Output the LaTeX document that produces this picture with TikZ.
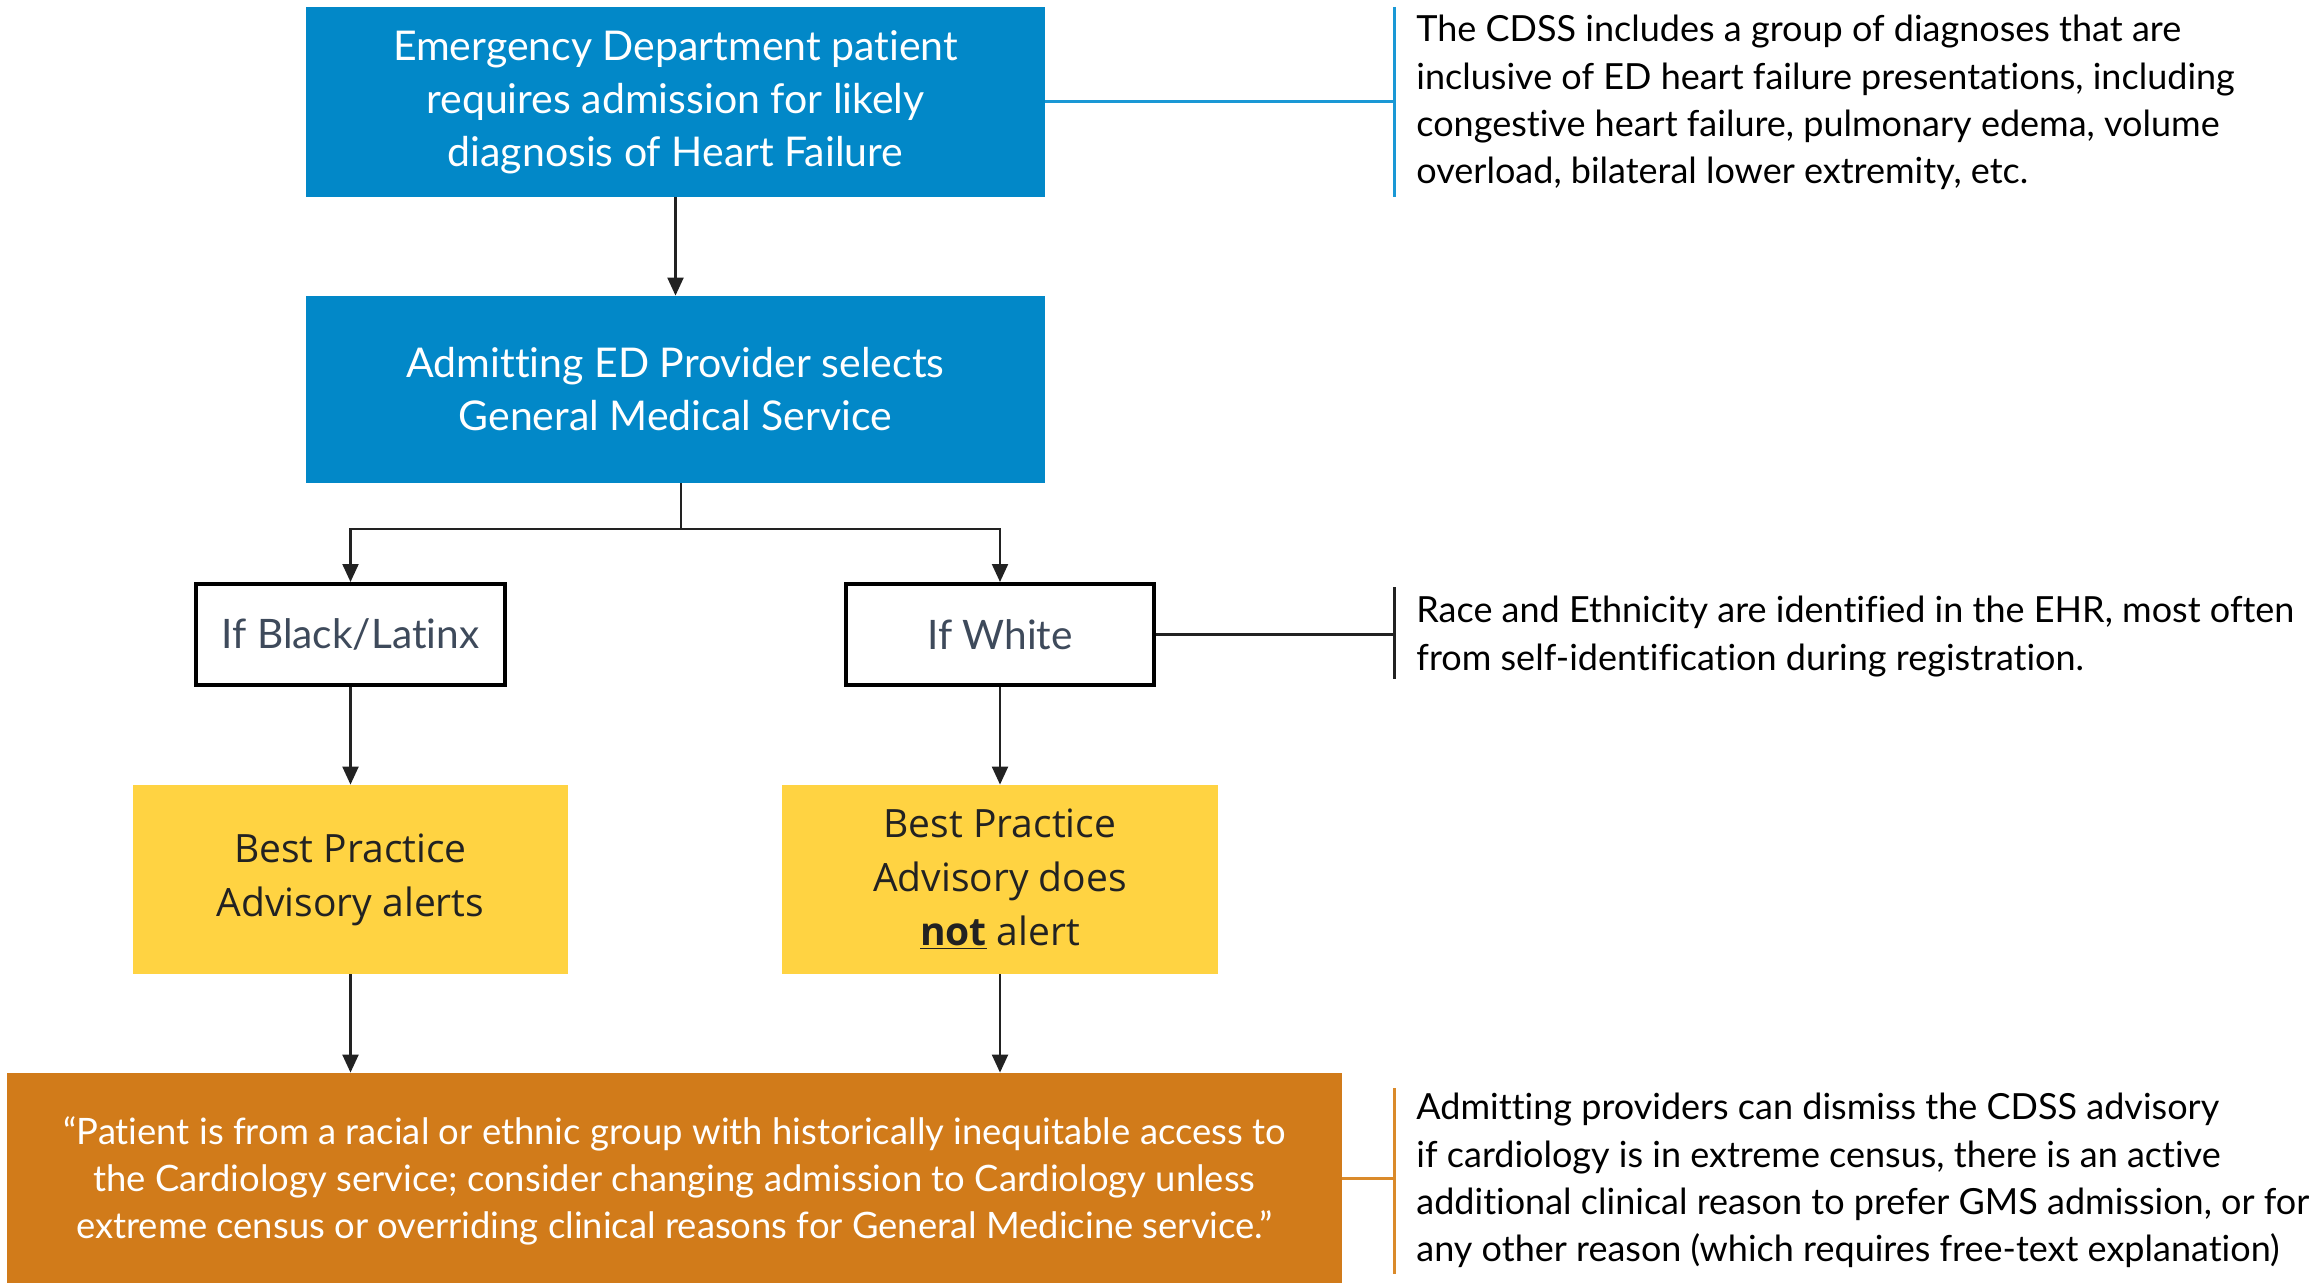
\documentclass[tikz,border=0pt]{standalone}
\usepackage{fontspec}
\setmainfont[Ligatures=NoCommon]{Lato}
\newfontfamily\yelfont{Open Sans}
\usetikzlibrary{arrows.meta,calc}
\definecolor{boxblue}{HTML}{0288C8}
\definecolor{lineblue}{HTML}{1A98D5}
\definecolor{boxyellow}{HTML}{FFD342}
\definecolor{boxorange}{HTML}{D17B1A}
\definecolor{lineorange}{HTML}{DA8A2A}
\definecolor{ifgray}{HTML}{3E4A5B}
\definecolor{conn}{HTML}{222222}
\tikzset{
  bluebox/.style={fill=boxblue, text=white, align=center, inner sep=0pt, minimum width=369.5pt, font=\fontsize{20.5}{26.5}\selectfont},
  ifbox/.style={draw=black, line width=2pt, fill=white, text=ifgray, align=center, inner sep=0pt, font=\fontsize{20.3}{26}\selectfont},
  yelbox/.style={fill=boxyellow, text=conn, align=center, inner sep=0pt, minimum height=94.5pt, font=\yelfont\fontsize{19.5}{27}\selectfont},
  orbox/.style={fill=boxorange, text=white, align=center, inner sep=0pt, font=\fontsize{18.2}{23.5}\selectfont},
  anntext/.style={anchor=north west, inner sep=0pt, align=left, text=black, font=\fontsize{18}{23.6}\selectfont},
  link/.style={draw=conn, line width=1.1pt},
  arrowlink/.style={link, -{Triangle[length=9pt,width=8pt]}},
}
\begin{document}
\begin{tikzpicture}[x=0.5pt,y=-0.5pt]
\useasboundingbox (0,0) rectangle (2318,1283);
% main boxes
\node[bluebox, minimum height=95pt] (box1) at (675.5,102) {Emergency Department patient\\requires admission for likely\\diagnosis of Heart Failure};
\node[bluebox, minimum height=93.5pt] (box2) at (675.5,389.5) {Admitting ED Provider selects\\General Medical Service};
\node[ifbox, minimum width=154.5pt, minimum height=50.5pt] (black) at (350.5,634.5) {If Black/Latinx};
\node[ifbox, minimum width=154pt, minimum height=50.5pt] (white) at (1000,634.5) {If White};
\node[yelbox, minimum width=217.5pt] (yel1) at (350.5,879.5) {Best Practice\\Advisory alerts};
\node[yelbox, minimum width=218pt] (yel2) at (1000,879.5) {Best Practice\\Advisory does\\\underline{\textbf{not}} alert};
\node[orbox, minimum width=667.5pt, minimum height=105pt] (orange) at (674.5,1178) {};
\node[orbox, fill=none] (otext) at (674.5,1181) {``Patient is from a racial or ethnic group with historically inequitable access to\\the Cardiology service; consider changing admission to Cardiology unless\\extreme census or overriding clinical reasons for General Medicine service.''};
% connectors
\coordinate (split) at (681,529);
\draw[arrowlink] (box1.south) -- (box2.north);
\draw[link] (box2.south -| split) -- (split);
\draw[arrowlink] (split) -| (black.north);
\draw[arrowlink] (split) -| (white.north);
\draw[arrowlink] (black.south) -- (yel1.north);
\draw[arrowlink] (white.south) -- (yel2.north);
\draw[arrowlink] (yel1.south) -- (orange.north -| yel1.south);
\draw[arrowlink] (yel2.south) -- (orange.north -| yel2.south);
% annotations
\coordinate (a1t) at (1394,7);
\coordinate (a1b) at (1394,197);
\draw[lineblue, line width=1.5pt] (a1t) -- (a1b);
\draw[lineblue, line width=1.5pt] (box1.east) -- (box1.east -| a1t);
\node[anntext] (t1) at (1416,15) {The CDSS includes a group of diagnoses that are\\inclusive of ED heart failure presentations, including\\congestive heart failure, pulmonary edema, volume\\overload, bilateral lower extremity, etc.};
\coordinate (a2t) at (1394,587);
\coordinate (a2b) at (1394,679);
\draw[conn, line width=1.5pt] (a2t) -- (a2b);
\draw[link] (white.east) -- (white.east -| a2t);
\node[anntext] (t2) at (1416,596) {Race and Ethnicity are identified in the EHR, most often\\from self-identification during registration.};
\coordinate (a3t) at (1394,1088);
\coordinate (a3b) at (1394,1274);
\draw[lineorange, line width=1.5pt] (a3t) -- (a3b);
\draw[lineorange, line width=1.5pt] (orange.east) -- (orange.east -| a3t);
\node[anntext] (t3) at (1416,1093) {Admitting providers can dismiss the CDSS advisory\\if cardiology is in extreme census, there is an active\\additional clinical reason to prefer GMS admission, or for\\any other reason (which requires free-text explanation)};
\end{tikzpicture}
\end{document}
